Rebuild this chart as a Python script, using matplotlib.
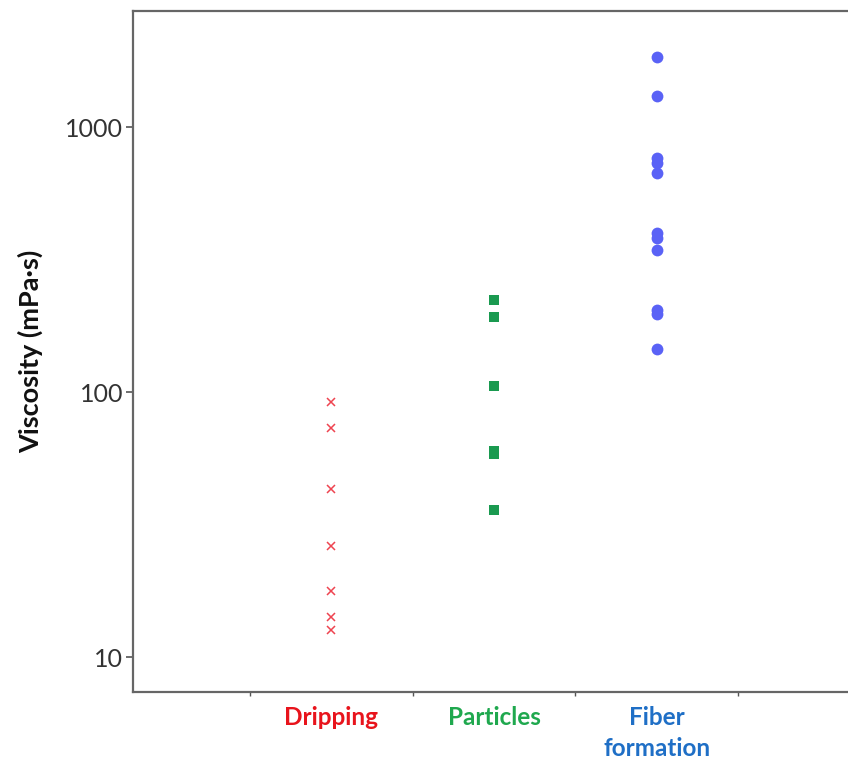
import matplotlib
matplotlib.use("Agg")
import matplotlib.pyplot as plt

categories = ["Dripping", "Particles", "Fiber\nformation"]
cat_colors = ["#e8141c", "#1fa84e", "#1f6fc6"]

dripping = [91.9, 73.0, 43.0, 26.3, 17.8, 14.2, 12.7]
particles = [222, 192, 105.5, 60.0, 58.4, 35.9]
fiber = [1842, 1310, 762, 731, 673, 398, 381, 344, 204, 197, 145]

yticks = [10, 100, 1000]
ytick_labels = ["10", "100", "1000"]
xtick_marks = [0.5, 1.5, 2.5, 3.5]

fig = plt.figure(figsize=(8.48, 7.63), dpi=100)
ax = fig.add_axes([133 / 848, 1 - 692 / 763, 1 - 133 / 848, (692 - 11) / 763])

ax.plot([1] * len(dripping), dripping, linestyle="none", marker="x",
        markersize=5.5, markeredgewidth=1.1, color="#ee4450")
ax.plot([2] * len(particles), particles, linestyle="none", marker="s",
        markersize=7.2, color="#1a9a50", markeredgewidth=0)
ax.plot([3] * len(fiber), fiber, linestyle="none", marker="o",
        markersize=8.5, color="#5a62f6", markeredgewidth=0)

ax.set_yscale("log")
ax.set_ylim(7.38, 2742)
ax.set_xlim(-0.215, 4.172)

ax.set_yticks(yticks)
ax.set_yticklabels(ytick_labels, fontfamily="Lato", fontsize=18, color="#333333")
ax.yaxis.set_minor_locator(matplotlib.ticker.NullLocator())
ax.tick_params(axis="y", direction="out", length=5, width=1.2, color="#555555", pad=2)

ax.set_xticks(xtick_marks)
ax.set_xticklabels([""] * len(xtick_marks))
ax.tick_params(axis="x", direction="out", length=3, width=1.0, color="#555555")

for i, (lab, col) in enumerate(zip(categories, cat_colors)):
    ax.text(i + 1, -0.02, lab, transform=ax.get_xaxis_transform(),
            ha="center", va="top", fontsize=17.5, fontweight="bold",
            fontfamily="Lato", color=col, linespacing=1.45)

ax.set_ylabel("Viscosity (mPa·s)", fontsize=19.5, fontweight="bold",
              fontfamily="Lato", color="#111111", labelpad=16)

for side in ["left", "top", "bottom"]:
    ax.spines[side].set_color("#666666")
    ax.spines[side].set_linewidth(1.6)
ax.spines["right"].set_visible(False)

fig.savefig("out.png", dpi=100)
